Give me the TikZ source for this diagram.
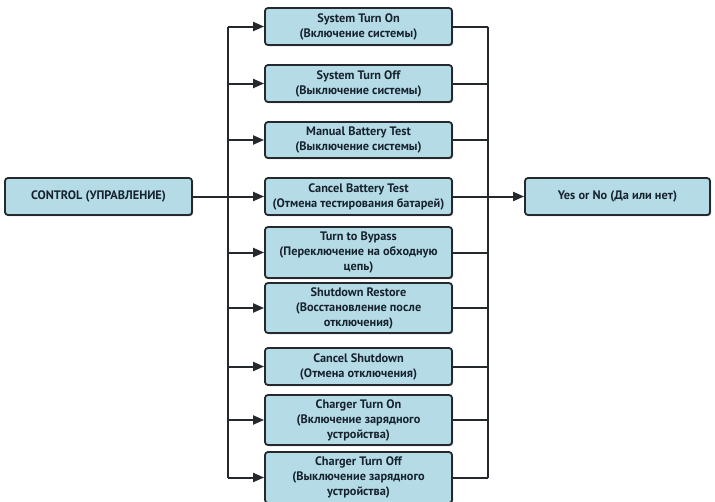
\documentclass[tikz,border=0pt]{standalone}
\usepackage{fontspec}
\setmainfont{PT Sans}
\usepackage{tikz}
\usetikzlibrary{arrows.meta,shadows}

\definecolor{boxfill}{HTML}{B5DCE6}
\definecolor{boxline}{HTML}{25292D}
\definecolor{boxtext}{HTML}{17222F}

\tikzset{
  cmdbox/.style={draw=boxline,line width=1.8pt,fill=boxfill,rounded corners=3pt,
    minimum width=187pt,inner sep=1pt,align=center,text=boxtext,
    font=\bfseries\fontsize{12.3}{15}\selectfont,
    drop shadow={shadow xshift=1pt,shadow yshift=-1pt,fill=boxline,opacity=.5}},
  wire/.style={line width=2pt,draw=boxline},
  arr/.style={wire,-{Triangle[length=11pt,width=9pt]}}
}

\begin{document}
\begin{tikzpicture}[x=1pt,y=1pt]
  \useasboundingbox (0,0) rectangle (715,-501);
  % left and centre boxes
  \node[cmdbox,minimum height=37pt] (ctrl) at (98.5,-196.5) {CONTROL (УПРАВЛЕНИЕ)};
  \foreach \n/\y/\h/\t in {
      1/-26.5/37/{System Turn On\\(Включение системы)},
      2/-83.5/37/{System Turn Off\\(Выключение системы)},
      3/-140/36/{Manual Battery Test\\(Выключение системы)},
      4/-196.5/37/{Cancel Battery Test\\(Отмена тестирования батарей)},
      5/-252.5/51/{Turn to Bypass\\(Переключение на обходную\\цепь)},
      6/-308/50/{Shutdown Restore\\(Восстановление после\\отключения)},
      7/-366.5/37/{Cancel Shutdown\\(Отмена отключения)},
      8/-420/50/{Charger Turn On\\(Включение зарядного\\устройства)},
      9/-477.5/51/{Charger Turn Off\\(Выключение зарядного\\устройства)}}
    \node[cmdbox,minimum height=\h pt] (b\n) at (358.5,\y) {\t};
  \node[cmdbox,minimum height=37pt,minimum width=185pt] (yes) at (617.5,-196.5) {Yes or No (Да или нет)};

  % buses
  \coordinate (lbus) at (228,0);
  \coordinate (rbus) at (488,0);
  \draw[wire] (b1.west -| lbus) -- (b9.west -| lbus);
  \draw[wire] (b1.east -| rbus) -- (b9.east -| rbus);
  \draw[wire] (ctrl.east) -- (b4.west -| lbus);
  \foreach \n in {1,...,9}{
    \draw[arr] (b\n.west -| lbus) -- (b\n.west);
    \draw[wire] (b\n.east) -- (b\n.east -| rbus);
  }
  \draw[arr] (b4.east -| rbus) -- (yes.west);
\end{tikzpicture}
\end{document}
